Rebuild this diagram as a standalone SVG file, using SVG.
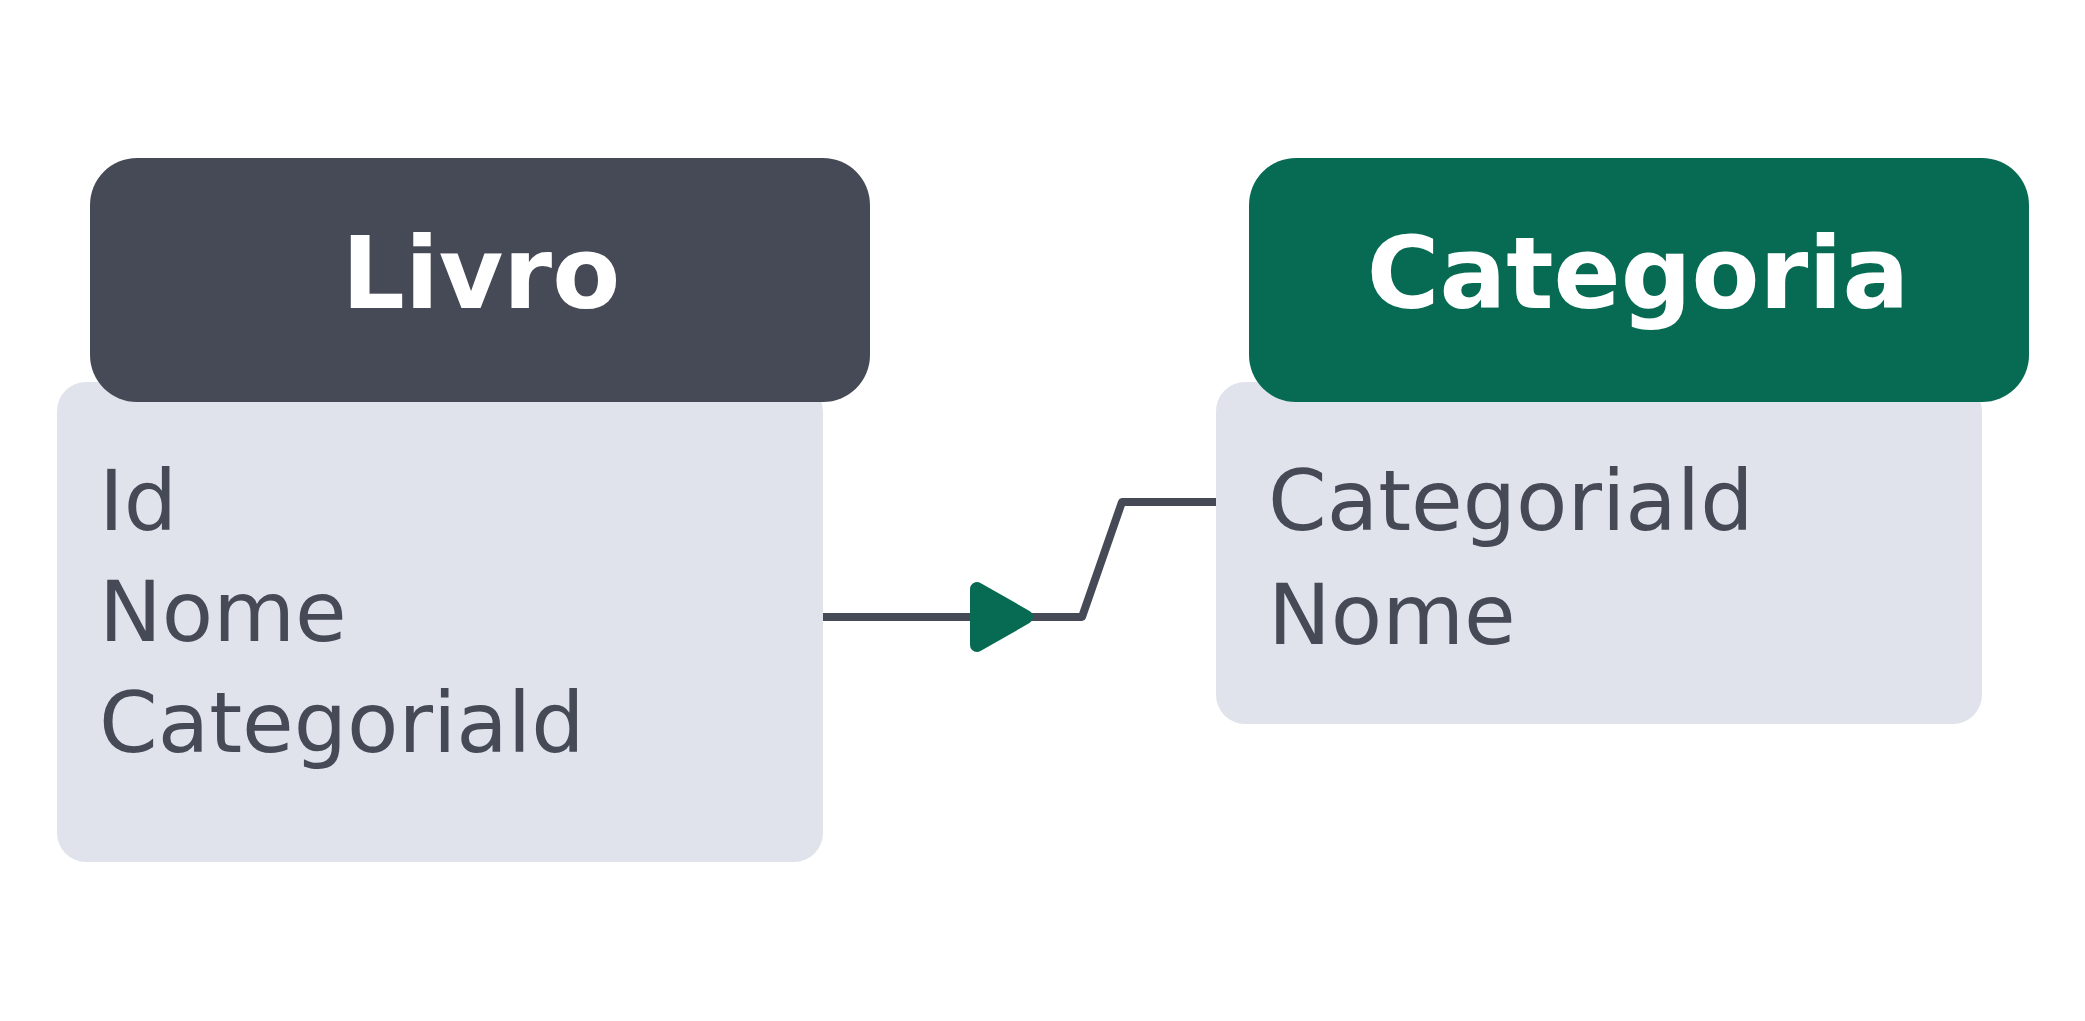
<svg xmlns="http://www.w3.org/2000/svg" width="2085" height="1021" viewBox="0 0 2085 1021">
  <style>
    .body { fill: #e0e3eb; }
    .hdr-dark { fill: #464a56; }
    .hdr-green { fill: #066b52; }
    .title { font-family: "DejaVu Sans", Verdana, sans-serif; font-weight: bold; font-size: 99px; fill: #ffffff; text-anchor: middle; }
    .field { font-family: "DejaVu Sans", Verdana, sans-serif; font-size: 84px; fill: #464a56; }
    .conn { fill: none; stroke: #464a56; stroke-width: 8; stroke-linejoin: round; }
    .arrow { fill: #066b52; stroke: #066b52; stroke-width: 14; stroke-linejoin: round; }
  </style>
  <rect width="2085" height="1021" fill="#ffffff"/>
  <g id="connectors">
    <polyline class="conn" points="823,617 1082,617 1122,502 1216,502"/>
    <polygon class="arrow" points="977,589 977,645 1026,617"/>
  </g>
  <g id="node-livro">
    <rect class="body" x="57" y="382" width="766" height="480" rx="29" ry="29"/>
    <rect class="hdr-dark" x="90" y="158" width="780" height="244" rx="47" ry="47"/>
    <text class="title" x="481" y="308">Livro</text>
    <text class="field" x="99" y="530">Id</text>
    <text class="field" x="99" y="641">Nome</text>
    <text class="field" x="99" y="752">Categoriald</text>
  </g>
  <g id="node-categoria">
    <rect class="body" x="1216" y="382" width="766" height="342" rx="29" ry="29"/>
    <rect class="hdr-green" x="1249" y="158" width="780" height="244" rx="47" ry="47"/>
    <text class="title" x="1638" y="308">Categoria</text>
    <text class="field" x="1268" y="530">Categoriald</text>
    <text class="field" x="1268" y="644">Nome</text>
  </g>
</svg>
